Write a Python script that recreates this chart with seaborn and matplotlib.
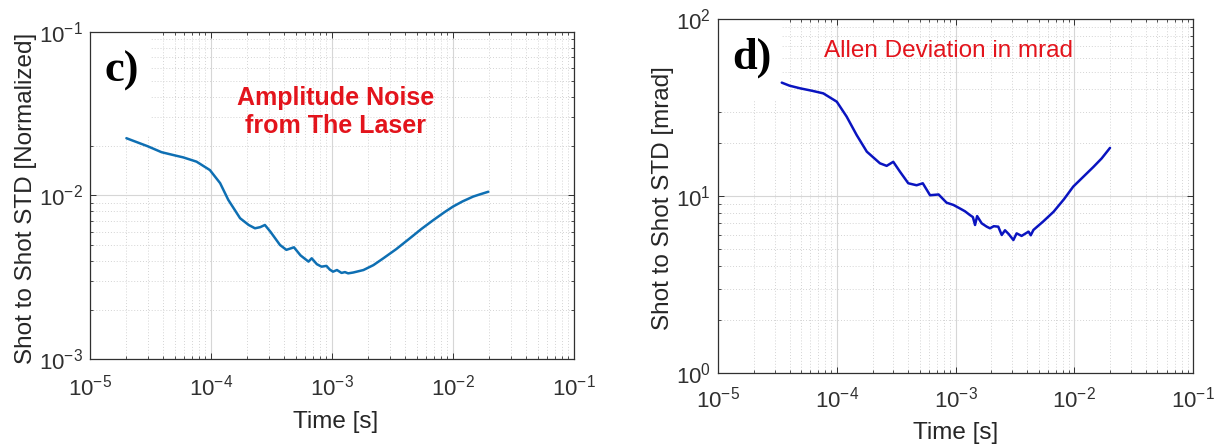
import numpy as np
import pandas as pd
import matplotlib
matplotlib.use("Agg")
import matplotlib.pyplot as plt
from matplotlib.patches import Rectangle
from matplotlib.ticker import LogLocator, NullFormatter, FixedLocator
import seaborn as sns

# ---------------- data ----------------
amp_time = [2.0e-5, 3.0e-5, 3.9e-5, 5.0e-5, 5.9e-5, 7.6e-5, 9.8e-5, 1.19e-4, 1.39e-4,
            1.74e-4, 2.05e-4, 2.31e-4, 2.55e-4, 2.79e-4, 3.1e-4, 3.72e-4, 4.2e-4, 4.85e-4,
            5.5e-4, 6.4e-4, 6.8e-4, 7.5e-4, 8.2e-4, 9.0e-4, 9.6e-4, 1.02e-3, 1.1e-3,
            1.2e-3, 1.28e-3, 1.36e-3, 1.5e-3, 1.82e-3, 2.2e-3, 2.66e-3, 3.4e-3, 4.4e-3,
            5.5e-3, 6.9e-3, 8.5e-3, 1.0e-2, 1.2e-2, 1.47e-2, 1.7e-2, 1.96e-2]
amp_std = [0.0224, 0.0200, 0.0184, 0.0176, 0.0171, 0.0161, 0.0143, 0.0119, 0.0094,
           0.00726, 0.00660, 0.00630, 0.00640, 0.00660, 0.00600, 0.00498, 0.00465, 0.00482,
           0.00430, 0.00394, 0.00413, 0.00380, 0.00367, 0.00371, 0.00352, 0.00342, 0.00350,
           0.00336, 0.00340, 0.00334, 0.00338, 0.00350, 0.00375, 0.00413, 0.00470, 0.00547,
           0.00625, 0.00708, 0.00790, 0.00855, 0.00920, 0.00985, 0.01020, 0.01054]

phase_time = [3.44e-5, 4.0e-5, 4.9e-5, 6.2e-5, 7.7e-5, 1.0e-4, 1.21e-4, 1.47e-4, 1.79e-4,
              2.31e-4, 2.63e-4, 2.99e-4, 3.41e-4, 4.0e-4, 4.7e-4, 5.3e-4, 6.1e-4, 7.2e-4,
              8.4e-4, 9.6e-4, 1.09e-3, 1.2e-3, 1.32e-3, 1.40e-3, 1.46e-3, 1.52e-3, 1.66e-3,
              1.83e-3, 1.95e-3, 2.1e-3, 2.29e-3, 2.45e-3, 2.61e-3, 2.8e-3, 3.07e-3, 3.27e-3,
              3.6e-3, 4.12e-3, 4.3e-3, 4.53e-3, 5.5e-3, 6.7e-3, 8.2e-3, 9.8e-3, 1.2e-2,
              1.45e-2, 1.7e-2, 2.0e-2]
phase_std = [43.7, 42.0, 40.6, 39.3, 38.0, 34.1, 28.1, 22.1, 17.8,
             15.3, 14.8, 15.6, 13.7, 11.8, 11.5, 11.8, 10.1, 10.2,
             9.17, 8.9, 8.5, 8.2, 7.81, 7.6, 6.86, 7.7, 7.01,
             6.71, 6.57, 6.75, 6.71, 6.02, 6.4, 6.1, 5.64, 6.15,
             5.95, 6.29, 6.0, 6.43, 7.2, 8.15, 9.6, 11.3, 12.9,
             14.6, 16.3, 18.7]

x_ticks = [1e-5, 1e-4, 1e-3, 1e-2, 1e-1]
x_ticklabels = [r"$10^{-5}$", r"$10^{-4}$", r"$10^{-3}$", r"$10^{-2}$", r"$10^{-1}$"]
left_yticks = [1e-3, 1e-2, 1e-1]
left_yticklabels = [r"$10^{-3}$", r"$10^{-2}$", r"$10^{-1}$"]
right_yticks = [1, 10, 100]
right_yticklabels = [r"$10^{0}$", r"$10^{1}$", r"$10^{2}$"]

amp_df = pd.DataFrame({"Time": amp_time, "STD": amp_std})
phase_df = pd.DataFrame({"Time": phase_time, "STD": phase_std})

# ---------------- style ----------------
sns.set_theme(style="ticks")
plt.rcParams["font.family"] = ["Liberation Sans", "DejaVu Sans"]
plt.rcParams["mathtext.fontset"] = "custom"
plt.rcParams["mathtext.rm"] = "Liberation Sans"
plt.rcParams["mathtext.it"] = "Liberation Sans:italic"
plt.rcParams["mathtext.bf"] = "Liberation Sans:bold"

fig = plt.figure(figsize=(12.16, 4.46), dpi=100)
fig.patch.set_facecolor("white")

ax1 = fig.add_axes([0.0740, 0.1951, 0.3980, 0.7332])
ax2 = fig.add_axes([0.5905, 0.1637, 0.3906, 0.7937])

RED = "#E3141C"
LABEL_SIZE = 17.5


def style_axis(ax, ylim, yticks, yticklabels, xpad):
    ax.set_xscale("log")
    ax.set_yscale("log")
    ax.set_xlim(1e-5, 1e-1)
    ax.set_ylim(*ylim)
    ax.xaxis.set_major_locator(FixedLocator(x_ticks))
    ax.set_xticklabels(x_ticklabels)
    ax.yaxis.set_major_locator(FixedLocator(yticks))
    ax.set_yticklabels(yticklabels)
    ax.xaxis.set_minor_locator(LogLocator(base=10, subs=np.arange(2, 10), numticks=20))
    ax.yaxis.set_minor_locator(LogLocator(base=10, subs=np.arange(2, 10), numticks=20))
    ax.xaxis.set_minor_formatter(NullFormatter())
    ax.yaxis.set_minor_formatter(NullFormatter())
    ax.grid(which="major", color="#D6D6D6", linestyle="-", linewidth=0.8, zorder=0)
    ax.grid(which="minor", color="#D4D4D4", linestyle=(0, (1, 2)), linewidth=0.7, zorder=0)
    ax.set_axisbelow(True)
    ax.tick_params(which="both", direction="in", top=True, right=True,
                   color="#303030", labelcolor="#303030", labelsize=16)
    ax.tick_params(which="major", length=4, width=0.7)
    ax.tick_params(which="minor", length=2.5, width=0.6)
    ax.tick_params(axis="x", which="major", pad=xpad)
    ax.tick_params(axis="y", which="major", pad=5)
    for s in ax.spines.values():
        s.set_color("#303030")
        s.set_linewidth(0.9)
        s.set_visible(True)
    ax.set_facecolor("white")


# ---------------- left panel ----------------
style_axis(ax1, (1e-3, 1e-1), left_yticks, left_yticklabels, 11)
ax1.add_patch(Rectangle((0.0, 0.685), 0.124, 0.315, transform=ax1.transAxes,
                        facecolor="white", edgecolor="none", zorder=1.5))
sns.lineplot(data=amp_df, x="Time", y="STD", ax=ax1, color="#0E6FB3",
             linewidth=1.8, zorder=3)
ax1.set_xlim(1e-5, 1e-1)
ax1.set_ylim(1e-3, 1e-1)
ax1.set_xlabel("Time [s]", fontsize=LABEL_SIZE, color="#262626")
ax1.set_ylabel("Shot to Shot STD [Normalized]", fontsize=LABEL_SIZE, color="#262626")
ax1.xaxis.set_label_coords(0.508, -0.160)
ax1.yaxis.set_label_coords(-0.110, 0.49)
ax1.text(0.066, 0.880, "c)", transform=ax1.transAxes, ha="center", va="center",
         fontsize=32, fontweight="bold", family=["Liberation Serif", "DejaVu Serif"],
         color="black", zorder=5)
ax1.text(0.508, 0.755, "Amplitude Noise\nfrom The Laser", transform=ax1.transAxes,
         ha="center", va="center", fontsize=18, fontweight="bold", color=RED,
         linespacing=1.2, zorder=5)

# ---------------- right panel ----------------
style_axis(ax2, (1, 100), right_yticks, right_yticklabels, 10)
ax2.add_patch(Rectangle((0.0, 0.771), 0.135, 0.229, transform=ax2.transAxes,
                        facecolor="white", edgecolor="none", zorder=1.5))
sns.lineplot(data=phase_df, x="Time", y="STD", ax=ax2, color="#0A14C0",
             linewidth=1.8, zorder=3)
ax2.set_xlim(1e-5, 1e-1)
ax2.set_ylim(1, 100)
ax2.set_xlabel("Time [s]", fontsize=LABEL_SIZE, color="#262626")
ax2.set_ylabel("Shot to Shot STD [mrad]", fontsize=LABEL_SIZE, color="#262626")
ax2.xaxis.set_label_coords(0.501, -0.138)
ax2.yaxis.set_label_coords(-0.093, 0.494)
ax2.text(0.072, 0.890, "d)", transform=ax2.transAxes, ha="center", va="center",
         fontsize=32, fontweight="bold", family=["Liberation Serif", "DejaVu Serif"],
         color="black", zorder=5)
ax2.text(0.486, 0.910, "Allen Deviation in mrad", transform=ax2.transAxes,
         ha="center", va="center", fontsize=17.5, color=RED, zorder=5)

fig.savefig("out.png", dpi=100, facecolor="white")
